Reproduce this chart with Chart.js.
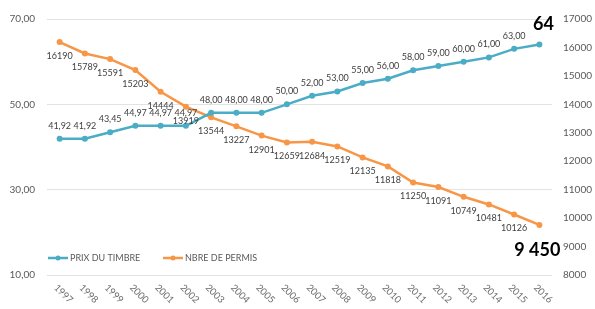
<!DOCTYPE html>
<html>
<head>
<meta charset="utf-8">
<script src="https://cdn.jsdelivr.net/npm/chart.js@4.4.0/dist/chart.umd.min.js"></script>
<style>
  html, body { margin: 0; padding: 0; background: #fff; }
  canvas { display: block; }
</style>
</head>
<body>
<canvas id="chart" width="595" height="309"></canvas>
<script>
const years = ['1997', '1998', '1999', '2000', '2001', '2002', '2003', '2004', '2005', '2006',
  '2007', '2008', '2009', '2010', '2011', '2012', '2013', '2014', '2015', '2016']
const prixTimbre = [41.92, 41.92, 43.45, 44.97, 44.97, 44.97, 48, 48, 48, 50,
  52, 53, 55, 56, 58, 59, 60, 61, 63, 64]
// last point is drawn a bit higher than its "9 450" note in the picture
const nbrePermis = [16190, 15789, 15591, 15203, 14444, 13919, 13544, 13227, 12901, 12659,
  12684, 12519, 12135, 11818, 11250, 11091, 10749, 10481, 10126, 9760]
const seriesNames = ['PRIX DU TIMBRE', 'NBRE DE PERMIS']
const endNotes = ['64', '9 450']
const leftTicks = [10, 30, 50, 70]
const rightTicks = [8000, 9000, 10000, 11000, 12000, 13000, 14000, 15000, 16000, 17000]

const BLUE = '#4bacc6'
const ORANGE = '#f79646'
const TEXT = '#404040'
const AXIS_TEXT = '#595959'
const FONT = 'Lato, "Open Sans", sans-serif'

const fmtPrix = v => v.toFixed(2).replace('.', ',')

const labelsPlugin = {
  id: 'labels',
  afterDatasetsDraw(chart) {
    const ctx = chart.ctx
    const last = years.length - 1
    ctx.save()
    ctx.font = '9px ' + FONT
    ctx.fillStyle = TEXT
    ctx.textAlign = 'center'
    ctx.textBaseline = 'middle'
    chart.getDatasetMeta(0).data.forEach((pt, i) => {
      if (i < last) ctx.fillText(fmtPrix(prixTimbre[i]), pt.x, pt.y - 13)
    })
    chart.getDatasetMeta(1).data.forEach((pt, i) => {
      if (i < last) ctx.fillText(String(nbrePermis[i]), pt.x, pt.y + 14)
    })

    // big end notes
    ctx.font = 'bold 18px ' + FONT
    ctx.fillStyle = '#000'
    const p0 = chart.getDatasetMeta(0).data[last]
    const p1 = chart.getDatasetMeta(1).data[last]
    ctx.fillText(endNotes[0], p0.x + 4, p0.y - 20)
    ctx.fillText(endNotes[1], p1.x - 2, p1.y + 25)

    // rotated year labels
    const x = chart.scales.x
    ctx.font = '9.5px ' + FONT
    ctx.fillStyle = '#6a6a6a'
    ctx.textAlign = 'left'
    years.forEach((y, i) => {
      ctx.save()
      ctx.translate(x.getPixelForTick(i) - 4, chart.chartArea.bottom + 11)
      ctx.rotate(Math.PI / 4)
      ctx.fillText(y, 0, 0)
      ctx.restore()
    })

    // legend inside the plot
    const colors = [BLUE, ORANGE]
    const starts = [48, 163]
    ctx.font = '9px ' + FONT
    const ly = 258
    seriesNames.forEach((name, i) => {
      const sx = starts[i]
      ctx.strokeStyle = colors[i]
      ctx.lineWidth = 2.5
      ctx.beginPath()
      ctx.moveTo(sx, ly)
      ctx.lineTo(sx + 20, ly)
      ctx.stroke()
      ctx.fillStyle = colors[i]
      ctx.beginPath()
      ctx.arc(sx + 10, ly, 2.5, 0, Math.PI * 2)
      ctx.fill()
      ctx.fillStyle = AXIS_TEXT
      ctx.fillText(name, sx + 22, ly)
    })
    ctx.restore()
  }
}

new Chart(document.getElementById('chart'), {
  type: 'line',
  data: {
    labels: years,
    datasets: [{
      label: seriesNames[0],
      data: prixTimbre,
      yAxisID: 'y',
      borderColor: BLUE,
      backgroundColor: BLUE,
      borderWidth: 2.5,
      pointRadius: 3,
      pointBorderWidth: 0,
      tension: 0
    }, {
      label: seriesNames[1],
      data: nbrePermis,
      yAxisID: 'y1',
      borderColor: ORANGE,
      backgroundColor: ORANGE,
      borderWidth: 2.5,
      pointRadius: 3,
      pointBorderWidth: 0,
      tension: 0
    }]
  },
  options: {
    responsive: false,
    animation: false,
    layout: { padding: { top: 19, left: 0, right: 0, bottom: 0 } },
    plugins: {
      legend: { display: false },
      tooltip: { enabled: false }
    },
    scales: {
      x: {
        offset: true,
        grid: { display: false },
        border: { display: false },
        ticks: { display: false },
        afterFit: s => { s.height = 34 }
      },
      y: {
        position: 'left',
        min: leftTicks[0],
        max: leftTicks[leftTicks.length - 1],
        ticks: {
          stepSize: leftTicks[1] - leftTicks[0],
          padding: 12,
          color: AXIS_TEXT,
          font: { family: FONT, size: 10 },
          callback: v => fmtPrix(v)
        },
        grid: { color: '#e3e3e3', drawTicks: false },
        border: { display: false },
        afterFit: s => { s.width = 47 }
      },
      y1: {
        position: 'right',
        min: rightTicks[0],
        max: rightTicks[rightTicks.length - 1],
        ticks: {
          stepSize: rightTicks[1] - rightTicks[0],
          padding: 11,
          color: AXIS_TEXT,
          font: { family: FONT, size: 10 },
          callback: v => String(v)
        },
        grid: { display: false, drawTicks: false },
        border: { display: false },
        afterFit: s => { s.width = 43 }
      }
    }
  },
  plugins: [labelsPlugin]
})
</script>
</body>
</html>
